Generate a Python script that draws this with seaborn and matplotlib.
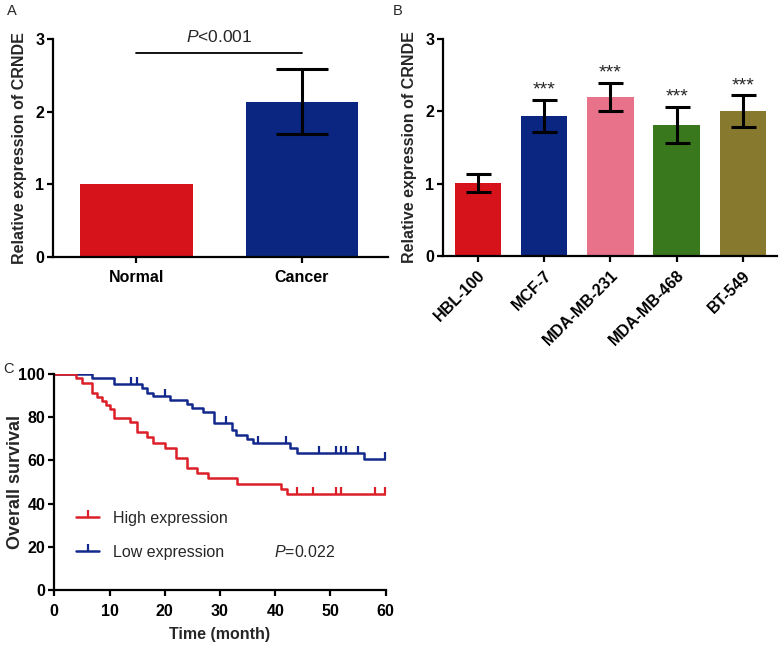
import numpy as np
import pandas as pd
import matplotlib
matplotlib.use("Agg")
import matplotlib.pyplot as plt
import seaborn as sns
from matplotlib.lines import Line2D

# ---------------- data ----------------
tissue = ["Normal", "Cancer"]
tissue_mean = [1.0, 2.14]
tissue_err = [0.0, 0.45]
tissue_colors = ["#D6131B", "#0A2680"]
tissue_p = "<0.001"
tissue_sig_y = 2.815

cells = ["HBL-100", "MCF-7", "MDA-MB-231", "MDA-MB-468", "BT-549"]
cell_mean = [1.01, 1.94, 2.20, 1.81, 2.00]
cell_err = [0.12, 0.22, 0.19, 0.25, 0.22]
cell_colors = ["#D6131B", "#0A2680", "#E8728A", "#3A781E", "#877A2E"]
cell_sig = ["", "***", "***", "***", "***"]

high_time = [3.9, 5.0, 6.9, 7.7, 8.6, 9.3, 10.1, 10.9, 13.8, 14.9, 16.7, 17.9,
             20.0, 22.0, 24.0, 25.9, 27.9, 33.0, 41.0, 42.1]
high_surv = [97.9, 95.6, 91.2, 89.4, 87.5, 85.5, 83.7, 79.7, 77.6, 73.2, 70.9, 68.1,
             65.6, 60.9, 56.6, 54.3, 51.7, 48.9, 46.6, 44.3]
high_censor = [43.9, 46.9, 51.0, 52.0, 58.1, 59.9]

low_time = [6.9, 10.9, 15.8, 16.7, 17.9, 20.9, 24.0, 25.0, 27.0, 28.9, 32.1, 32.9,
            34.9, 36.0, 42.7, 44.0, 56.1]
low_surv = [98.2, 95.1, 93.2, 91.2, 89.7, 87.9, 85.9, 84.3, 82.5, 77.1, 74.0, 71.7,
            69.7, 67.9, 65.6, 63.2, 60.6]
low_censor = [13.9, 14.9, 20.0, 31.0, 36.9, 42.0, 48.0, 51.0, 52.0, 52.9, 55.0, 59.8]

km_colors = {"High expression": "#DC1F28", "Low expression": "#13288C"}
km_p = "=0.022"
max_time = 60

# ---------------- style ----------------
sns.set_style("ticks")
plt.rcParams["font.family"] = ["Liberation Sans", "DejaVu Sans"]
plt.rcParams["mathtext.fontset"] = "custom"
plt.rcParams["mathtext.rm"] = "Liberation Sans"
plt.rcParams["mathtext.it"] = "Liberation Sans:italic"

FS = 11.5
fig = plt.figure(figsize=(7.82, 6.47), dpi=100)
axA = fig.add_axes([0.0682, 0.6032, 0.4280, 0.3361])
axB = fig.add_axes([0.5669, 0.6043, 0.4263, 0.3354])
axC = fig.add_axes([0.0694, 0.0876, 0.4238, 0.3348])


def style_axes(ax, xpad=4, ypad=2):
    for s in ["top", "right"]:
        ax.spines[s].set_visible(False)
    for s in ["left", "bottom"]:
        ax.spines[s].set_linewidth(1.6)
        ax.spines[s].set_color("black")
    ax.tick_params(width=1.6, length=4.5, labelsize=FS, colors="black")
    ax.tick_params(axis="x", pad=xpad)
    ax.tick_params(axis="y", pad=ypad)
    for lbl in ax.get_xticklabels() + ax.get_yticklabels():
        lbl.set_fontweight("bold")


# ---------------- panel A ----------------
dfA = pd.DataFrame({"group": tissue, "value": tissue_mean})
sns.barplot(data=dfA, x="group", y="value", hue="group", palette=tissue_colors,
            legend=False, saturation=1, width=0.68, linewidth=0, ax=axA)
xa = np.array([i for i, e in enumerate(tissue_err) if e > 0])
axA.errorbar(xa, np.array(tissue_mean)[xa], yerr=np.array(tissue_err)[xa], fmt="none",
             ecolor="black", elinewidth=2.2, capsize=19, capthick=2.2, zorder=5)
axA.set_xlim(-0.5, 1.52)
axA.set_ylim(0, 3)
axA.set_yticks([0, 1, 2, 3])
axA.set_xlabel("")
axA.set_ylabel("Relative expression of CRNDE", fontsize=FS, fontweight="bold", labelpad=6)
style_axes(axA, xpad=5)
axA.plot([0, len(tissue) - 1], [tissue_sig_y, tissue_sig_y], color="black", lw=1.3, clip_on=False)
axA.text(0.5, tissue_sig_y + 0.1, "$P$" + tissue_p, ha="center", va="bottom", fontsize=12.5)

# ---------------- panel B ----------------
dfB = pd.DataFrame({"cell": cells, "value": cell_mean})
sns.barplot(data=dfB, x="cell", y="value", hue="cell", palette=cell_colors,
            legend=False, saturation=1, width=0.70, linewidth=0, ax=axB)
axB.errorbar(np.arange(len(cells)), cell_mean, yerr=cell_err, fmt="none",
             ecolor="black", elinewidth=2.2, capsize=9, capthick=2.2, zorder=5)
for i, (m, e, s) in enumerate(zip(cell_mean, cell_err, cell_sig)):
    if s:
        axB.text(i, m + e + 0.02, s, ha="center", va="bottom", fontsize=14)
axB.set_xlim(-0.52, 4.51)
axB.set_ylim(0, 3)
axB.set_yticks([0, 1, 2, 3])
axB.set_xlabel("")
axB.set_ylabel("Relative expression of CRNDE", fontsize=FS, fontweight="bold", labelpad=6)
style_axes(axB)
for lbl in axB.get_xticklabels():
    lbl.set_rotation(45)
    lbl.set_ha("right")
    lbl.set_rotation_mode("anchor")

# ---------------- panel C ----------------
def step_frame(times, surv, name):
    t = [0] + list(times) + [max_time]
    s = [100] + list(surv) + [surv[-1]]
    return pd.DataFrame({"time": t, "surv": s, "group": name})


def surv_at(times, surv, c):
    t = np.array([0] + list(times))
    s = np.array([100] + list(surv))
    return s[np.searchsorted(t, c, side="right") - 1]


groups = [("Low expression", low_time, low_surv, low_censor),
          ("High expression", high_time, high_surv, high_censor)]
for name, t, s, c in groups:
    df = step_frame(t, s, name)
    sns.lineplot(data=df, x="time", y="surv", drawstyle="steps-post", estimator=None,
                 sort=False, color=km_colors[name], lw=1.8, ax=axC)
    axC.plot(c, surv_at(t, s, np.array(c)), linestyle="none", marker=2, markersize=5,
             mew=1.6, color=km_colors[name], clip_on=False)

axC.set_xlim(0, max_time)
axC.set_ylim(0, 100)
axC.set_xticks(np.arange(0, 61, 10))
axC.set_yticks(np.arange(0, 101, 20))
axC.set_xlabel("Time (month)", fontsize=FS, fontweight="bold", labelpad=6)
axC.set_ylabel("Overall survival", fontsize=13, fontweight="bold")
axC.yaxis.set_label_coords(-0.118, 0.5)
axC.yaxis.label.set_va("center")
style_axes(axC, xpad=5)

handles = [Line2D([], [], color=km_colors[n], lw=1.8, marker=2, markersize=5, mew=1.6)
           for n in ["High expression", "Low expression"]]
axC.legend(handles, ["High expression", "Low expression"], loc="center left",
           bbox_to_anchor=(0.066, 0.255), frameon=False, fontsize=FS, handlelength=1.45,
           handletextpad=0.85, labelspacing=1.2, borderpad=0, borderaxespad=0, numpoints=1)
axC.text(39.7, 17.8, "$P$" + km_p, ha="left", va="center", fontsize=FS)

# panel letters
fig.text(12 / 782, 1 - 11 / 647, "A", ha="center", va="center", fontsize=10.5)
fig.text(398 / 782, 1 - 11 / 647, "B", ha="center", va="center", fontsize=10.5)
fig.text(8 / 782, 1 - 369 / 647, "C", ha="center", va="center", fontsize=10.5)

fig.savefig("out.png", dpi=100, facecolor="white")
